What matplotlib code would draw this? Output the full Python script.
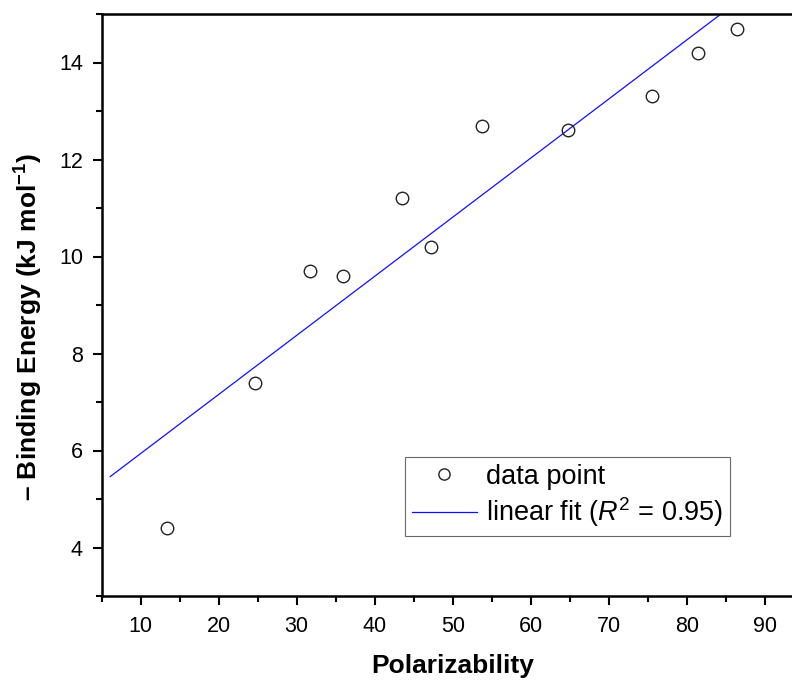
# coding=utf-8
import numpy as np
import matplotlib
matplotlib.use('Agg')
import matplotlib.pyplot as plt
from matplotlib.ticker import MultipleLocator

# 数据点
polarizability = [13.4, 24.7, 31.7, 35.9, 43.5, 47.2, 53.7, 64.8, 75.5, 81.5, 86.5]
binding_energy = [4.4, 7.4, 9.7, 9.6, 11.2, 10.2, 12.7, 12.6, 13.3, 14.2, 14.7]
# 线性拟合参数
fit_slope = 0.1218
fit_intercept = 4.72
fit_x_start = 6.1
fit_x_end = 95

plt.rcParams['font.family'] = ['Liberation Sans', 'DejaVu Sans']
plt.rcParams['mathtext.fontset'] = 'custom'
plt.rcParams['mathtext.rm'] = 'Liberation Sans'
plt.rcParams['mathtext.it'] = 'Liberation Sans:italic'
plt.rcParams['mathtext.bf'] = 'Liberation Sans:bold'

fig = plt.figure(figsize=(7.92, 6.85), dpi=100)
# 右边框超出画布
ax = fig.add_axes([101.7 / 792, 1 - 596 / 685, 702 / 792, 582 / 685])

fx = np.array([fit_x_start, fit_x_end])
ax.plot(fx, fit_intercept + fit_slope * fx, color='#1010ff', lw=0.9,
        label=r'linear fit ($\mathit{R}^2$ = 0.95)', zorder=2)
ax.plot(polarizability, binding_energy, 'o', ms=9, mfc='none', mec='#222222',
        mew=1.0, label='data point', zorder=3)

ax.set_xlim(5, 95)
ax.set_ylim(3, 15)
ax.xaxis.set_minor_locator(MultipleLocator(5))
ax.yaxis.set_minor_locator(MultipleLocator(1))
ax.set_xticks(np.arange(10, 91, 10))
ax.set_yticks(np.arange(4, 15, 2))

ax.spines['right'].set_visible(False)
for s in ['left', 'bottom', 'top']:
    ax.spines[s].set_linewidth(1.8)
ax.tick_params(which='major', direction='out', length=6.5, width=1.5,
               labelsize=15.5)
ax.tick_params(axis='x', which='major', pad=8)
ax.tick_params(axis='y', which='major', pad=7)
ax.tick_params(which='minor', direction='out', length=4, width=1.5)
ax.tick_params(top=False, right=False, which='both')

ax.set_xlabel('Polarizability', fontsize=19, fontweight='bold')
ax.set_ylabel(r'– Binding Energy (kJ mol$^{\mathbf{-1}}$)', fontsize=19,
              fontweight='bold')
ax.xaxis.set_label_coords(0.5, -0.099)
ax.yaxis.set_label_coords(-0.081, 0.462)

h, l = ax.get_legend_handles_labels()
leg = ax.legend(h[::-1], l[::-1], loc='upper left',
                bbox_to_anchor=(405 / 792, 1 - 457 / 685),
                bbox_transform=fig.transFigure, borderaxespad=0,
                fontsize=19.5, frameon=True, fancybox=False, numpoints=1,
                handlelength=2.4, handletextpad=0.35, markerscale=0.9,
                borderpad=0.25, labelspacing=0.2)
leg.get_frame().set_edgecolor('#444444')
leg.get_frame().set_linewidth(0.8)

fig.savefig('out.png', dpi=100)
